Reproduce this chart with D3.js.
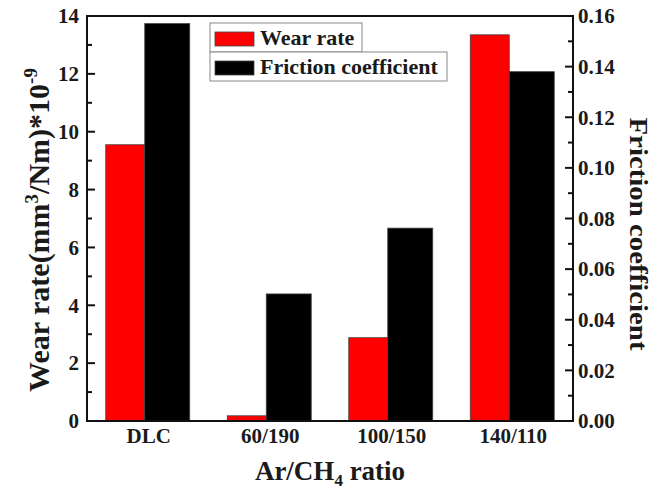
<!DOCTYPE html>
<html>
<head>
<meta charset="utf-8">
<script src="https://cdn.jsdelivr.net/npm/d3@7"></script>
<style>
  body { margin: 0; background: #fff; }
  text { font-family: "Liberation Serif", "Times New Roman", serif; font-weight: bold; fill: #1a1a1a; }
</style>
</head>
<body>
<div class="chart"></div>
<script>
var categories = ["DLC", "60/190", "100/150", "140/110"];
var wearRate = [9.55, 0.18, 2.88, 13.35];
var friction = [0.157, 0.0502, 0.0762, 0.138];
var leftTicks = [0, 2, 4, 6, 8, 10, 12, 14];
var rightTicks = [0, 0.02, 0.04, 0.06, 0.08, 0.10, 0.12, 0.14, 0.16];

var width = 652, height = 491
    , margin = { top: 16, left: 87, right: 79, bottom: 70 }
    , x0 = margin.left, x1 = width - margin.right
    , y0 = height - margin.bottom, y1 = margin.top;

var svg = d3.select(".chart").append("svg")
    .attr("width", width)
    .attr("height", height);

var x = d3.scalePoint()
    .domain(categories)
    .range([x0, x1])
    .padding(0.5);

var yL = d3.scaleLinear().domain([0, 14]).range([y0, y1]);
var yR = d3.scaleLinear().domain([0, 0.16]).range([y0, y1]);

var redW = 39, blackW = 45;

// bars
svg.append("g").selectAll("rect")
    .data(categories)
    .enter().append("rect")
    .attr("x", d => x(d) - (redW + blackW) / 2)
    .attr("y", (d, i) => yL(wearRate[i]))
    .attr("width", redW)
    .attr("height", (d, i) => yL(0) - yL(wearRate[i]))
    .attr("fill", "#ff0000")
    .attr("stroke", "#444")
    .attr("stroke-width", 0.8);

svg.append("g").selectAll("rect")
    .data(categories)
    .enter().append("rect")
    .attr("x", d => x(d) - (redW + blackW) / 2 + redW)
    .attr("y", (d, i) => yR(friction[i]))
    .attr("width", blackW)
    .attr("height", (d, i) => yR(0) - yR(friction[i]))
    .attr("fill", "#000")
    .attr("stroke", "#444")
    .attr("stroke-width", 0.8);

// frame
svg.append("rect")
    .attr("x", x0).attr("y", y1)
    .attr("width", x1 - x0).attr("height", y0 - y1)
    .attr("fill", "none")
    .attr("stroke", "#111")
    .attr("stroke-width", 2);

// left axis
var gl = svg.append("g");
gl.selectAll("line.major")
    .data(leftTicks).enter().append("line")
    .attr("x1", x0).attr("x2", x0 + 8)
    .attr("y1", d => yL(d)).attr("y2", d => yL(d))
    .attr("stroke", "#111").attr("stroke-width", 2);
gl.selectAll("line.minor")
    .data(d3.range(1, 14, 2)).enter().append("line")
    .attr("x1", x0).attr("x2", x0 + 5)
    .attr("y1", d => yL(d)).attr("y2", d => yL(d))
    .attr("stroke", "#111").attr("stroke-width", 2);
gl.selectAll("text")
    .data(leftTicks).enter().append("text")
    .attr("x", x0 - 8)
    .attr("y", d => yL(d))
    .attr("dy", "0.35em")
    .attr("text-anchor", "end")
    .style("font-size", "21px")
    .text(d => d);

// right axis
var gr = svg.append("g");
gr.selectAll("line.major")
    .data(rightTicks).enter().append("line")
    .attr("x1", x1).attr("x2", x1 - 8)
    .attr("y1", d => yR(d)).attr("y2", d => yR(d))
    .attr("stroke", "#111").attr("stroke-width", 2);
gr.selectAll("line.minor")
    .data(d3.range(0.01, 0.16, 0.02)).enter().append("line")
    .attr("x1", x1).attr("x2", x1 - 5)
    .attr("y1", d => yR(d)).attr("y2", d => yR(d))
    .attr("stroke", "#111").attr("stroke-width", 2);
gr.selectAll("text")
    .data(rightTicks).enter().append("text")
    .attr("x", x1 + 5)
    .attr("y", d => yR(d))
    .attr("dy", "0.35em")
    .style("font-size", "21px")
    .text(d => d3.format(".2f")(d));

// category labels
svg.append("g").selectAll("text")
    .data(categories).enter().append("text")
    .attr("x", d => x(d) + 1)
    .attr("y", y0 + 22)
    .attr("text-anchor", "middle")
    .style("font-size", "21px")
    .text(d => d);

// axis titles
var xt = svg.append("text")
    .attr("x", 330)
    .attr("y", 480)
    .attr("text-anchor", "middle")
    .style("font-size", "27px");
xt.append("tspan").text("Ar/CH");
xt.append("tspan").attr("dy", 6).style("font-size", "17px").text("4");
xt.append("tspan").attr("dy", -6).text(" ratio");

var lt = svg.append("text")
    .attr("transform", "translate(49,230) rotate(-90)")
    .attr("text-anchor", "middle")
    .style("font-size", "30px");
lt.append("tspan").text("Wear rate(mm");
lt.append("tspan").attr("dy", -11).style("font-size", "19px").text("3");
lt.append("tspan").attr("dy", 11).text("/Nm)*10");
lt.append("tspan").attr("dy", -12).style("font-size", "19px").text("-9");

svg.append("text")
    .attr("transform", "translate(630,234) rotate(90)")
    .attr("text-anchor", "middle")
    .attr("textLength", 233)
    .attr("lengthAdjust", "spacingAndGlyphs")
    .style("font-size", "25px")
    .text("Friction coefficient");

// legend
var legendNames = ["Wear rate", "Friction coefficient"];
var legendColors = ["#ff0000", "#000"];
var legendW = [152, 237];
var leg = svg.append("g").attr("transform", "translate(210,23)");
var item = leg.selectAll("g")
    .data(legendNames).enter().append("g")
    .attr("transform", (d, i) => `translate(0,${i * 29})`);
item.append("rect")
    .attr("width", (d, i) => legendW[i]).attr("height", 29)
    .attr("fill", "#fff")
    .attr("stroke", "#888").attr("stroke-width", 1);
item.append("rect")
    .attr("x", 5).attr("y", 9)
    .attr("width", 39).attr("height", 14)
    .attr("fill", (d, i) => legendColors[i])
    .attr("stroke", "#444").attr("stroke-width", 0.8);
item.append("text")
    .attr("x", 50).attr("y", 22)
    .style("font-size", "22px")
    .text(d => d);
</script>
</body>
</html>
